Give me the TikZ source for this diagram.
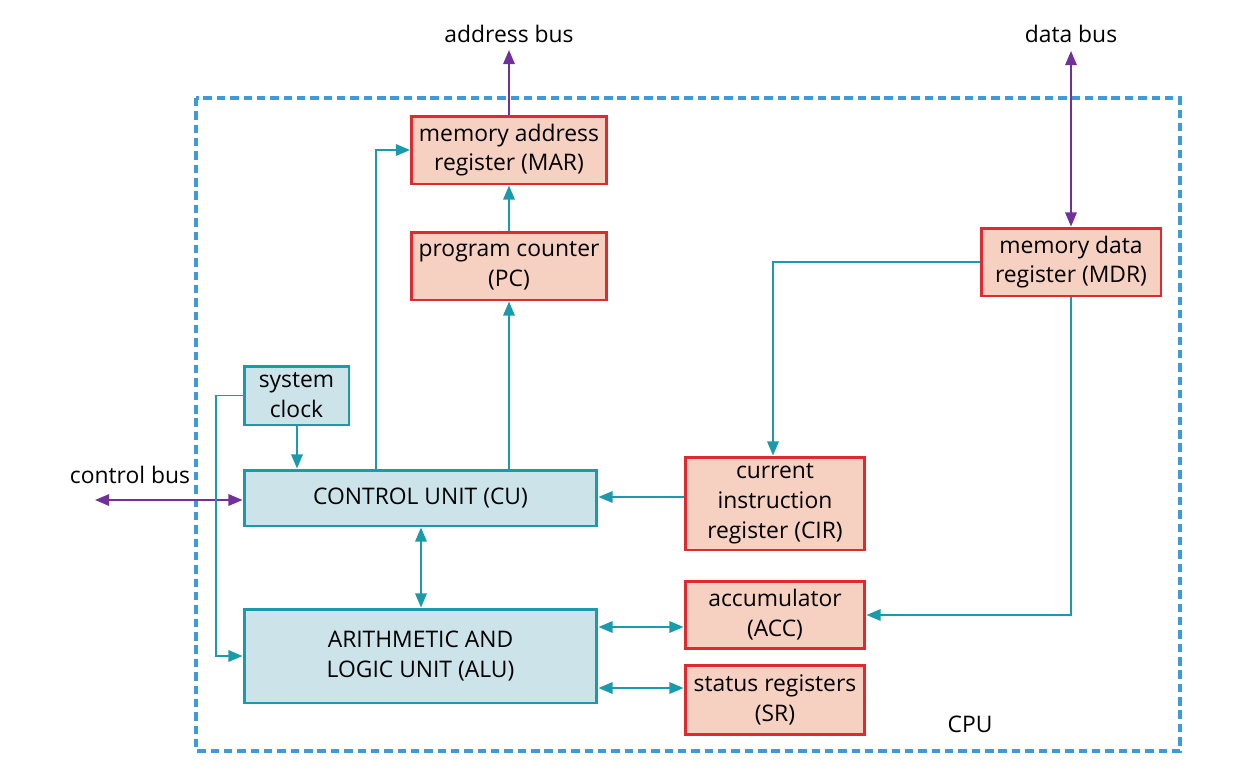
\documentclass[tikz,border=0pt]{standalone}
\usepackage{fontspec}
\setmainfont{Open Sans}
\usetikzlibrary{arrows.meta,calc}
\definecolor{teal}{HTML}{1A9BAB}
\definecolor{tealfill}{HTML}{CCE3E9}
\definecolor{regred}{HTML}{DF2A2F}
\definecolor{regfill}{HTML}{F6D0C1}
\definecolor{buspurple}{HTML}{72309A}
\definecolor{cpublue}{HTML}{3D9BDB}
\tikzset{
  every node/.style={font=\fontsize{13}{17}\selectfont, text=black, align=center, inner sep=0pt},
  regbox/.style={draw=regred, fill=regfill, line width=1.7pt, minimum width=3.6cm},
  unitbox/.style={draw=teal, fill=tealfill, line width=1.7pt},
  conn/.style={draw=teal, line width=1pt},
  arr/.style={conn, -{Triangle[length=8pt,width=6.5pt]}},
  darr/.style={conn, {Triangle[length=8pt,width=6.5pt]}-{Triangle[length=8pt,width=6.5pt]}},
  pbus/.style={draw=buspurple, line width=1pt, {Triangle[length=8pt,width=6.5pt]}-{Triangle[length=8pt,width=6.5pt]}},
  pbusone/.style={draw=buspurple, line width=1pt, -{Triangle[length=8pt,width=6.5pt]}},
}
\begin{document}
\begin{tikzpicture}[x=0.02cm,y=-0.02cm]
\useasboundingbox (0,0) rectangle (1244,782);
% CPU boundary
\draw[cpublue, line width=1.9pt, dash pattern=on 4.8pt off 2.8pt] (196,98) rectangle (1180,751);
\node (cpu) at (970,724) {CPU};
% registers
\node[regbox, minimum width=3.9cm, minimum height=1.36cm] (MAR) at (509,150) {memory address\\register (MAR)};
\node[regbox, minimum width=3.9cm, minimum height=1.36cm] (PC) at (509,266) {program counter\\(PC)};
\node[regbox, minimum height=1.36cm] (MDR) at (1071,262) {memory data\\register (MDR)};
\node[regbox, minimum height=1.86cm] (CIR) at (775,503.5) {current\\instruction\\register (CIR)};
\node[regbox, minimum height=1.34cm] (ACC) at (775,614.5) {accumulator\\(ACC)};
\node[regbox, minimum height=1.38cm] (SR) at (775,699.5) {status registers\\(SR)};
% units
\node[unitbox, minimum width=2.1cm, minimum height=1.18cm] (CLK) at (296.5,395.5) {system\\clock};
\node[unitbox, minimum width=7.06cm, minimum height=1.12cm] (CU) at (420.5,498) {CONTROL UNIT (CU)};
\node[unitbox, minimum width=7.06cm, minimum height=1.88cm] (ALU) at (420.5,656) {ARITHMETIC AND\\LOGIC UNIT (ALU)};
% bus labels
\node (ab) at (509,34) {address bus};
\node (db) at (1071,34) {data bus};
\node (cbl) at (130,475) {control bus};
% helper coordinates
\coordinate (xa) at (376,0);
\coordinate (xb) at (509,0);
\coordinate (xc) at (421,0);
\coordinate (xd) at (773,0);
\coordinate (xe) at (1071,0);
\coordinate (xf) at (216,0);
\coordinate (xg) at (297,0);
\coordinate (ya) at (0,627);
\coordinate (yb) at (0,688);
\coordinate (yc) at (0,615);
\coordinate (yd) at (0,497);
\coordinate (cbend) at (95,500);
\coordinate (abend) at (509,50);
\coordinate (dbend) at (1071,51);
% buses
\draw[pbusone] (MAR.north) -- (abend);
\draw[pbus] (dbend) -- (MDR.north);
\draw[pbus] (cbend) -- (CU.west |- cbend);
% internal connectors
\draw[arr] (CLK.south -| xg) -- (CU.north -| xg);
\draw[arr] (CLK.west) -| (xf |- ALU.west) -- (ALU.west);
\draw[arr] (CU.north -| xa) |- (MAR.west);
\draw[arr] (CU.north -| xb) -- (PC.south);
\draw[arr] (PC.north) -- (MAR.south);
\draw[arr] (MDR.west) -| (CIR.north -| xd);
\draw[arr] (MDR.south -| xe) |- (ACC.east |- yc);
\draw[arr] (CIR.west |- yd) -- (CU.east |- yd);
\draw[darr] (CU.south -| xc) -- (ALU.north -| xc);
\draw[darr] (ALU.east |- ya) -- (ACC.west |- ya);
\draw[darr] (ALU.east |- yb) -- (SR.west |- yb);
\end{tikzpicture}
\end{document}
